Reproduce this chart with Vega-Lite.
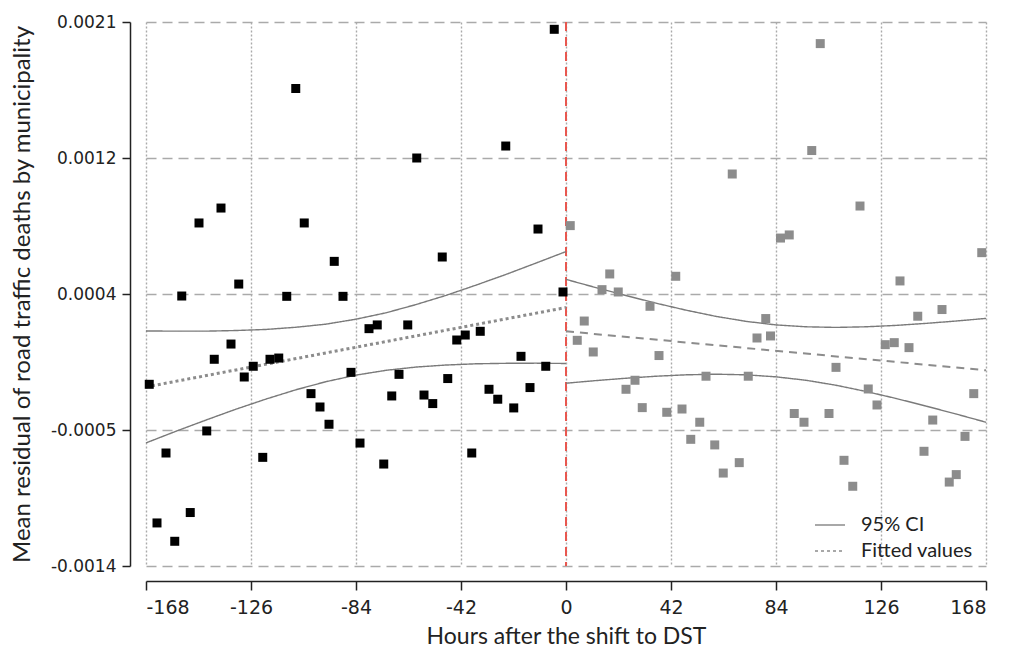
{
  "$schema": "https://vega.github.io/schema/vega-lite/v6.json",
  "width": 840,
  "height": 544,
  "autosize": {"type": "none"},
  "padding": {"left": 146, "top": 22, "right": 23, "bottom": 88},
  "background": "white",
  "config": {
    "view": {"stroke": null},
    "axis": {"labelFont": "DejaVu Sans", "titleFont": "Lato", "titleFontWeight": "normal", "titleColor": "#222", "labelColor": "#222", "domainColor": "#222", "tickColor": "#222", "domainWidth": 1.5, "tickWidth": 1.5}
  },
  "datasets": {
    "pts": [
      {"h":-166.7,"v":-0.000231,"side":"b"},{"h":-163.6,"v":-0.001123,"side":"b"},{"h":-160.0,"v":-0.000673,"side":"b"},{"h":-156.5,"v":-0.001241,"side":"b"},
      {"h":-153.7,"v":0.000337,"side":"b"},{"h":-150.3,"v":-0.001056,"side":"b"},{"h":-146.8,"v":0.000807,"side":"b"},{"h":-143.7,"v":-0.000531,"side":"b"},
      {"h":-140.7,"v":-0.00007,"side":"b"},{"h":-138.0,"v":0.000903,"side":"b"},{"h":-134.0,"v":0.000028,"side":"b"},{"h":-130.9,"v":0.000414,"side":"b"},
      {"h":-128.7,"v":-0.000184,"side":"b"},{"h":-125.1,"v":-0.000115,"side":"b"},{"h":-121.3,"v":-0.000701,"side":"b"},{"h":-118.4,"v":-0.00007,"side":"b"},
      {"h":-114.9,"v":-0.000062,"side":"b"},{"h":-111.7,"v":0.000335,"side":"b"},{"h":-108.1,"v":0.001672,"side":"b"},{"h":-104.7,"v":0.000807,"side":"b"},
      {"h":-102.0,"v":-0.000291,"side":"b"},{"h":-98.4,"v":-0.000377,"side":"b"},{"h":-94.8,"v":-0.000488,"side":"b"},{"h":-92.7,"v":0.00056,"side":"b"},
      {"h":-89.2,"v":0.000335,"side":"b"},{"h":-86.0,"v":-0.000154,"side":"b"},{"h":-82.4,"v":-0.000609,"side":"b"},{"h":-78.8,"v":0.000127,"side":"b"},
      {"h":-75.5,"v":0.000151,"side":"b"},{"h":-72.9,"v":-0.000744,"side":"b"},{"h":-69.7,"v":-0.000306,"side":"b"},{"h":-66.8,"v":-0.000167,"side":"b"},
      {"h":-63.3,"v":0.000151,"side":"b"},{"h":-59.7,"v":0.001225,"side":"b"},{"h":-56.8,"v":-0.0003,"side":"b"},{"h":-53.3,"v":-0.000355,"side":"b"},
      {"h":-49.5,"v":0.000588,"side":"b"},{"h":-47.3,"v":-0.000194,"side":"b"},{"h":-43.7,"v":0.000054,"side":"b"},{"h":-40.3,"v":0.000086,"side":"b"},
      {"h":-37.7,"v":-0.000673,"side":"b"},{"h":-34.3,"v":0.00011,"side":"b"},{"h":-30.8,"v":-0.000263,"side":"b"},{"h":-27.3,"v":-0.000327,"side":"b"},
      {"h":-24.1,"v":0.001302,"side":"b"},{"h":-20.9,"v":-0.000383,"side":"b"},{"h":-18.0,"v":-0.000051,"side":"b"},{"h":-14.4,"v":-0.000252,"side":"b"},
      {"h":-11.2,"v":0.000768,"side":"b"},{"h":-8.1,"v":-0.000115,"side":"b"},{"h":-4.7,"v":0.002053,"side":"b"},{"h":-1.2,"v":0.000363,"side":"b"},
      {"h":1.7,"v":0.00079,"side":"g"},{"h":4.5,"v":0.000052,"side":"g"},{"h":7.3,"v":0.000176,"side":"g"},{"h":10.9,"v":-0.000023,"side":"g"},
      {"h":14.4,"v":0.000378,"side":"g"},{"h":17.5,"v":0.000479,"side":"g"},{"h":20.9,"v":0.000363,"side":"g"},{"h":24.0,"v":-0.000263,"side":"g"},
      {"h":27.6,"v":-0.000205,"side":"g"},{"h":30.5,"v":-0.000381,"side":"g"},{"h":33.6,"v":0.000271,"side":"g"},{"h":37.2,"v":-0.000046,"side":"g"},
      {"h":40.3,"v":-0.000411,"side":"g"},{"h":43.9,"v":0.000464,"side":"g"},{"h":46.4,"v":-0.00039,"side":"g"},{"h":49.9,"v":-0.000585,"side":"g"},
      {"h":53.5,"v":-0.000475,"side":"g"},{"h":56.0,"v":-0.000179,"side":"g"},{"h":59.5,"v":-0.000621,"side":"g"},{"h":62.9,"v":-0.000802,"side":"g"},
      {"h":66.5,"v":0.001122,"side":"g"},{"h":69.3,"v":-0.000735,"side":"g"},{"h":72.9,"v":-0.000179,"side":"g"},{"h":76.4,"v":0.000067,"side":"g"},
      {"h":79.9,"v":0.000192,"side":"g"},{"h":81.8,"v":0.00008,"side":"g"},{"h":85.8,"v":0.00071,"side":"g"},{"h":89.3,"v":0.00073,"side":"g"},
      {"h":91.3,"v":-0.000419,"side":"g"},{"h":95.2,"v":-0.000475,"side":"g"},{"h":98.3,"v":0.001273,"side":"g"},{"h":101.7,"v":0.001961,"side":"g"},
      {"h":105.2,"v":-0.000419,"side":"g"},{"h":108.0,"v":-0.000122,"side":"g"},{"h":111.2,"v":-0.00072,"side":"g"},{"h":114.7,"v":-0.000887,"side":"g"},
      {"h":117.6,"v":0.000916,"side":"g"},{"h":120.9,"v":-0.000261,"side":"g"},{"h":124.4,"v":-0.000364,"side":"g"},{"h":127.7,"v":0.000024,"side":"g"},
      {"h":131.3,"v":0.000037,"side":"g"},{"h":133.6,"v":0.000434,"side":"g"},{"h":137.2,"v":0.000005,"side":"g"},{"h":140.7,"v":0.000207,"side":"g"},
      {"h":143.2,"v":-0.000662,"side":"g"},{"h":146.7,"v":-0.000461,"side":"g"},{"h":150.4,"v":0.00025,"side":"g"},{"h":153.3,"v":-0.00086,"side":"g"},
      {"h":156.1,"v":-0.000812,"side":"g"},{"h":159.6,"v":-0.000566,"side":"g"},{"h":163.1,"v":-0.000291,"side":"g"},{"h":166.3,"v":0.000616,"side":"g"}
    ],
    "ci": [
      {"h":-168,"v":0.000112,"part":"uL"},{"h":-156,"v":0.000111,"part":"uL"},{"h":-144,"v":0.000111,"part":"uL"},{"h":-132,"v":0.000115,"part":"uL"},
      {"h":-120,"v":0.000122,"part":"uL"},{"h":-108,"v":0.000136,"part":"uL"},{"h":-96,"v":0.000156,"part":"uL"},{"h":-84,"v":0.000188,"part":"uL"},
      {"h":-72,"v":0.000229,"part":"uL"},{"h":-60,"v":0.000282,"part":"uL"},{"h":-48,"v":0.000341,"part":"uL"},{"h":-36,"v":0.000407,"part":"uL"},
      {"h":-24,"v":0.000476,"part":"uL"},{"h":-12,"v":0.000549,"part":"uL"},{"h":0,"v":0.000623,"part":"uL"},
      {"h":-168,"v":-0.000608,"part":"lL"},{"h":-156,"v":-0.000533,"part":"lL"},{"h":-144,"v":-0.000461,"part":"lL"},{"h":-132,"v":-0.000391,"part":"lL"},
      {"h":-120,"v":-0.000326,"part":"lL"},{"h":-108,"v":-0.000266,"part":"lL"},{"h":-96,"v":-0.000214,"part":"lL"},{"h":-84,"v":-0.000172,"part":"lL"},
      {"h":-72,"v":-0.000141,"part":"lL"},{"h":-60,"v":-0.00012,"part":"lL"},{"h":-48,"v":-0.000107,"part":"lL"},{"h":-36,"v":-0.000099,"part":"lL"},
      {"h":-24,"v":-0.000096,"part":"lL"},{"h":-12,"v":-0.000095,"part":"lL"},{"h":0,"v":-0.000097,"part":"lL"},
      {"h":0,"v":0.000444,"part":"uR"},{"h":12,"v":0.000391,"part":"uR"},{"h":24,"v":0.00034,"part":"uR"},{"h":36,"v":0.000291,"part":"uR"},
      {"h":48,"v":0.000246,"part":"uR"},{"h":60,"v":0.000206,"part":"uR"},{"h":72,"v":0.000174,"part":"uR"},{"h":84,"v":0.000151,"part":"uR"},
      {"h":96,"v":0.000139,"part":"uR"},{"h":108,"v":0.000135,"part":"uR"},{"h":120,"v":0.000139,"part":"uR"},{"h":132,"v":0.000148,"part":"uR"},
      {"h":144,"v":0.000161,"part":"uR"},{"h":156,"v":0.000176,"part":"uR"},{"h":168,"v":0.000193,"part":"uR"},
      {"h":0,"v":-0.000224,"part":"lR"},{"h":12,"v":-0.000207,"part":"lR"},{"h":24,"v":-0.000192,"part":"lR"},{"h":36,"v":-0.000179,"part":"lR"},
      {"h":48,"v":-0.00017,"part":"lR"},{"h":60,"v":-0.000166,"part":"lR"},{"h":72,"v":-0.00017,"part":"lR"},{"h":84,"v":-0.000183,"part":"lR"},
      {"h":96,"v":-0.000205,"part":"lR"},{"h":108,"v":-0.000237,"part":"lR"},{"h":120,"v":-0.000277,"part":"lR"},{"h":132,"v":-0.000322,"part":"lR"},
      {"h":144,"v":-0.000371,"part":"lR"},{"h":156,"v":-0.000422,"part":"lR"},{"h":168,"v":-0.000475,"part":"lR"}
    ],
    "fitL": [{"h":-168,"v":-0.000248},{"h":0,"v":0.000263}],
    "fitR": [{"h":0,"v":0.00011},{"h":168,"v":-0.000141}]
  },
  "encoding": {
    "x": {"field": "h", "type": "quantitative",
      "scale": {"domain": [-168, 168], "nice": false, "zero": false},
      "axis": {"values": [-168,-126,-84,-42,0,42,84,126,168], "labelExpr": "toString(datum.value)", "title": "Hours after the shift to DST",
        "offset": 15, "tickSize": 9, "labelFontSize": 19, "labelPadding": 8, "titleFontSize": 23, "titlePadding": 8,
        "grid": true, "gridDash": [2,2], "gridColor": "#aaaaaa", "gridWidth": 1.4}},
    "y": {"field": "v", "type": "quantitative",
      "scale": {"domain": [-0.0014, 0.0021], "nice": false, "zero": false},
      "axis": {"values": [-0.0014,-0.000525,0.00035,0.001225,0.0021],
        "labelExpr": "datum.value < -0.001 ? '-0.0014' : datum.value < 0 ? '-0.0005' : datum.value < 0.001 ? '0.0004' : datum.value < 0.002 ? '0.0012' : '0.0021'",
        "title": "Mean residual of road traffic deaths by municipality",
        "offset": 16, "tickSize": 8, "labelFontSize": 17, "labelPadding": 6, "titleFontSize": 24, "titlePadding": 16,
        "grid": true, "gridDash": [10,6], "gridColor": "#aaaaaa", "gridWidth": 1.4}}
  },
  "layer": [
    {"data": {"values": [{"h": 0}]}, "mark": {"type": "rule", "color": "#e8574f", "strokeWidth": 2, "strokeDash": [9,6]},
     "encoding": {"x": {"field": "h", "type": "quantitative"}, "y": null}},
    {"data": {"name": "ci"}, "mark": {"type": "line", "color": "#7a7a7a", "strokeWidth": 1.4},
     "encoding": {"detail": {"field": "part"},
       "strokeDash": {"datum": "95% CI", "type": "nominal",
         "scale": {"domain": ["95% CI", "Fitted values"], "range": [[1,0],[3,3]]},
         "legend": {"title": null, "orient": "none", "legendX": 668, "legendY": 487, "symbolType": "stroke",
           "symbolSize": 900, "symbolStrokeColor": "#7a7a7a", "symbolStrokeWidth": 1.6, "labelFont": "Lato",
           "labelFontSize": 20, "labelColor": "#222", "labelOffset": 15, "rowPadding": -2}}}},
    {"data": {"name": "fitL"}, "mark": {"type": "line", "color": "#8c8c8c", "strokeWidth": 3},
     "encoding": {"strokeDash": {"datum": "Fitted values", "type": "nominal"}}},
    {"data": {"name": "fitR"}, "mark": {"type": "line", "color": "#8c8c8c", "strokeWidth": 2, "strokeDash": [8,6]},
     "encoding": {}},
    {"data": {"name": "pts"}, "mark": {"type": "square", "filled": true, "size": 81, "opacity": 1},
     "encoding": {"color": {"field": "side", "type": "nominal", "scale": {"domain": ["b","g"], "range": ["#000000", "#8c8c8c"]}, "legend": null}}}
  ]
}
